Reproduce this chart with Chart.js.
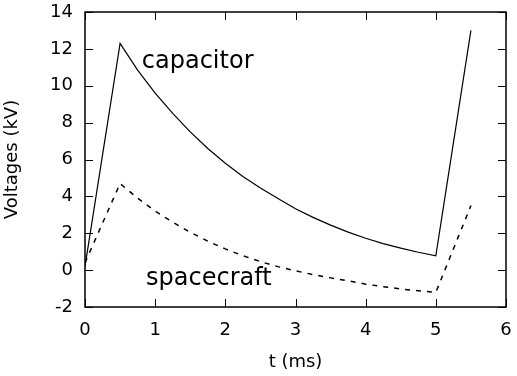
<!DOCTYPE html>
<html>
<head>
<meta charset="utf-8">
<script src="https://cdn.jsdelivr.net/npm/chart.js@4"></script>
<style>
  html, body { margin: 0; padding: 0; background: #fff; }
</style>
</head>
<body>
<canvas id="voltChart" width="517" height="376"></canvas>
<script>
// time in ms
const times = [0, 0.5, 0.75, 1.0, 1.25, 1.5, 1.75, 2.0, 2.25, 2.5, 2.75, 3.0, 3.25, 3.5, 3.75, 4.0, 4.25, 4.5, 4.75, 5.0, 5.5];
// voltages in kV
const capacitor = [0.2, 12.3, 10.85, 9.6, 8.5, 7.5, 6.6, 5.8, 5.08, 4.45, 3.88, 3.33, 2.86, 2.44, 2.06, 1.73, 1.44, 1.19, 0.97, 0.78, 13.0];
const spacecraft = [0.4, 4.7, 3.9, 3.2, 2.6, 2.05, 1.57, 1.15, 0.78, 0.46, 0.19, -0.04, -0.24, -0.42, -0.58, -0.76, -0.9, -1.02, -1.12, -1.21, 3.5];

const labels = [
    { text: 'capacitor', x: 0.81, y: 10.96 },
    { text: 'spacecraft', x: 0.87, y: -0.8 }
];

const font = 'DejaVu Sans';

function toPoints(ys) {
    return times.map((t, i) => ({ x: t, y: ys[i] }));
}

// inward ticks on all four sides + closed border box + text labels
const framePlugin = {
    id: 'frame',
    afterDatasetsDraw(chart) {
        const ctx = chart.ctx;
        const a = chart.chartArea;
        const xs = chart.scales.x;
        const ys = chart.scales.y;
        const len = 8;
        ctx.save();
        ctx.strokeStyle = '#000';
        ctx.lineWidth = 1;
        ctx.beginPath();
        xs.ticks.forEach(tk => {
            const px = Math.round(xs.getPixelForValue(tk.value)) + 0.5;
            ctx.moveTo(px, a.bottom); ctx.lineTo(px, a.bottom - len);
            ctx.moveTo(px, a.top); ctx.lineTo(px, a.top + len);
        });
        ys.ticks.forEach(tk => {
            const py = Math.round(ys.getPixelForValue(tk.value)) + 0.5;
            ctx.moveTo(a.left, py); ctx.lineTo(a.left + len, py);
            ctx.moveTo(a.right, py); ctx.lineTo(a.right - len, py);
        });
        ctx.stroke();
        ctx.lineWidth = 1.5;
        ctx.strokeRect(a.left, a.top, a.right - a.left, a.bottom - a.top);

        ctx.fillStyle = '#000';
        ctx.font = '24px "' + font + '"';
        ctx.textBaseline = 'alphabetic';
        ctx.textAlign = 'left';
        labels.forEach(l => {
            ctx.fillText(l.text, xs.getPixelForValue(l.x), ys.getPixelForValue(l.y));
        });
        ctx.restore();
    }
};

const ctx = document.getElementById('voltChart').getContext('2d');

new Chart(ctx, {
    type: 'line',
    data: {
        datasets: [{
            label: 'capacitor',
            data: toPoints(capacitor),
            borderColor: '#000',
            borderWidth: 1.2,
            pointRadius: 0,
            fill: false
        }, {
            label: 'spacecraft',
            data: toPoints(spacecraft),
            borderColor: '#000',
            borderWidth: 1.5,
            borderDash: [5, 6],
            pointRadius: 0,
            fill: false
        }]
    },
    options: {
        responsive: false,
        animation: false,
        layout: { padding: { top: 12, right: 11, left: 0, bottom: 0 } },
        plugins: {
            legend: { display: false },
            tooltip: { enabled: false }
        },
        scales: {
            x: {
                type: 'linear',
                min: 0,
                max: 6,
                afterFit: s => { s.height = 69; s.paddingLeft = 0; s.paddingRight = 0; },
                grid: { drawOnChartArea: false, drawTicks: false },
                border: { display: false },
                ticks: {
                    stepSize: 1,
                    color: '#000',
                    padding: 13,
                    font: { family: font, size: 18 }
                },
                title: {
                    display: true,
                    text: 't (ms)',
                    color: '#000',
                    padding: { top: 0, bottom: 3 },
                    font: { family: font, size: 18 }
                }
            },
            y: {
                min: -2,
                max: 14,
                afterFit: s => { s.width = 85; s.paddingTop = 0; s.paddingBottom = 0; },
                grid: { drawOnChartArea: false, drawTicks: false },
                border: { display: false },
                ticks: {
                    stepSize: 2,
                    color: '#000',
                    padding: 12,
                    font: { family: font, size: 18 }
                },
                title: {
                    display: true,
                    text: 'Voltages (kV)',
                    color: '#000',
                    padding: { top: 2, bottom: 0 },
                    font: { family: font, size: 18 }
                }
            }
        }
    },
    plugins: [framePlugin]
});
</script>
</body>
</html>
